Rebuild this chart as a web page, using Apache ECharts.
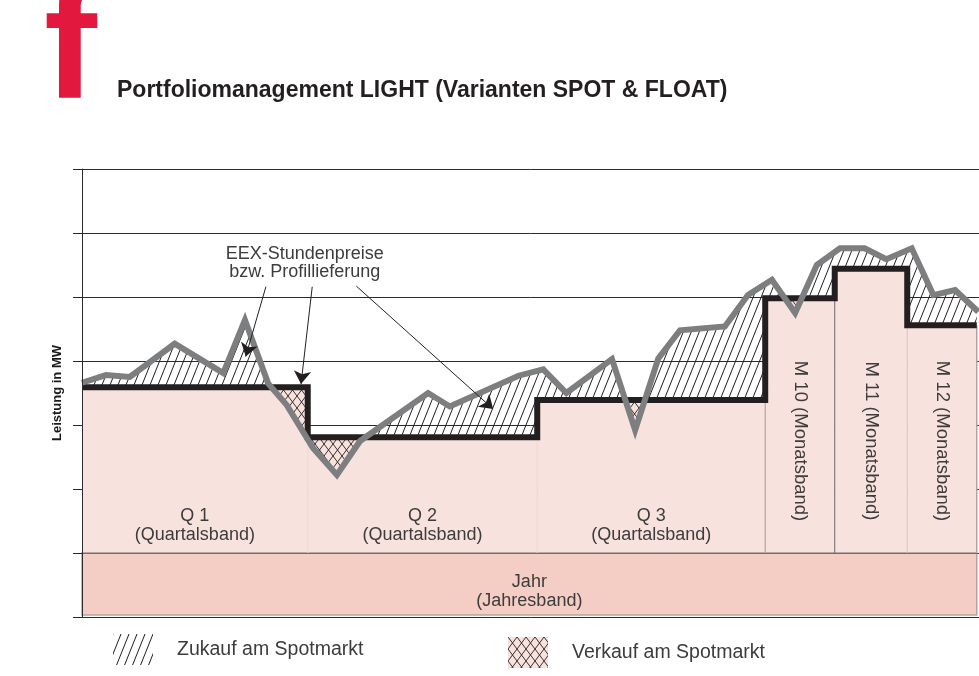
<!DOCTYPE html>
<html>
<head>
<meta charset="utf-8">
<title>Portfoliomanagement LIGHT</title>
<script src="https://cdn.jsdelivr.net/npm/echarts@6/dist/echarts.min.js"></script>
<style>
    html, body { margin: 0; padding: 0; background: #fff; }
    #chart { width: 979px; height: 676px; }
</style>
</head>
<body>
<div id="chart"></div>
<script>
// Bänder (x in Monaten, y = Leistung in MW)
const bandEdges = [0, 3.02, 6.09, 9.14, 10.07, 11.04, 11.97];
const bandLevels = [3.59, 2.81, 3.39, 4.98, 5.44, 4.56];
const bandNames = ['Q 1', 'Q 2', 'Q 3', 'M 10', 'M 11', 'M 12'];
const bandKinds = ['(Quartalsband)', '(Quartalsband)', '(Quartalsband)', '(Monatsband)', '(Monatsband)', '(Monatsband)'];
const yearLevel = 1;
const yearName = 'Jahr';
const yearKind = '(Jahresband)';

// EEX-Stundenpreise bzw. Profillieferung
const spotX = [0, 0.32, 0.64, 1.24, 1.89, 2.18, 2.49, 2.74, 3.09, 3.41, 3.72, 4.63, 4.92, 5.84, 6.17, 6.48,
    7.09, 7.40, 7.71, 8.00, 8.60, 8.91, 9.23, 9.54, 9.83, 10.14, 10.47, 10.76, 11.10, 11.39, 11.68, 11.99];
const spotY = [3.66, 3.78, 3.75, 4.27, 3.81, 4.64, 3.65, 3.31, 2.64, 2.22, 2.75, 3.50, 3.29, 3.77, 3.87, 3.50,
    4.03, 2.92, 4.04, 4.48, 4.54, 5.03, 5.27, 4.75, 5.50, 5.76, 5.76, 5.59, 5.76, 5.03, 5.11, 4.77];

const noteText = 'EEX-Stundenpreise\nbzw. Profillieferung';
const noteAt = [2.98, 5.53];
const arrowFrom = [[2.46, 5.16], [3.08, 5.16], [3.67, 5.17]];
const arrowTo = [[2.19, 4.07], [2.93, 3.64], [5.50, 3.25]];

const legendNames = ['Zukauf am Spotmarkt', 'Verkauf am Spotmarkt'];
const yMax = 7;

const FONT = '"Liberation Sans", Arial, sans-serif';
const INK = '#231f20';
const TEXT = '#3c3c3c';
const PINK = '#f8e2dd';
const PINK_DARK = '#f4cdc4';
const SEP_COLORS = [null, '#f2d6d0', '#f2d6d0', '#a59a97', '#6f6767', '#d6c4c0'];

function makePattern(w, h, bg, draw) {
    const c = document.createElement('canvas');
    c.width = w;
    c.height = h;
    const ctx = c.getContext('2d');
    if (bg) {
        ctx.fillStyle = bg;
        ctx.fillRect(0, 0, w, h);
    }
    ctx.strokeStyle = INK;
    ctx.lineWidth = 1;
    draw(ctx, w, h);
    return { image: c, repeat: 'repeat' };
}

const hatchFill = makePattern(8, 20, null, (ctx, w, h) => {
    for (let k = -1; k <= 1; k++) {
        ctx.beginPath(); ctx.moveTo(k * w, h); ctx.lineTo(k * w + w, 0); ctx.stroke();
    }
});
const crossFill = makePattern(9, 12, PINK, (ctx, w, h) => {
    ctx.lineWidth = 0.9;
    for (let k = -1; k <= 1; k++) {
        ctx.beginPath(); ctx.moveTo(k * w, h); ctx.lineTo(k * w + w, 0); ctx.stroke();
        ctx.beginPath(); ctx.moveTo(k * w, 0); ctx.lineTo(k * w + w, h); ctx.stroke();
    }
});

// Flächen zwischen Spotkurve und Bandstufe
function spotAt(x) {
    for (let i = 0; i < spotX.length - 1; i++) {
        if (x <= spotX[i + 1]) {
            const t = (x - spotX[i]) / (spotX[i + 1] - spotX[i]);
            return spotY[i] + t * (spotY[i + 1] - spotY[i]);
        }
    }
    return spotY[spotY.length - 1];
}

const hatchPolys = [];
const crossPolys = [];
for (let b = 0; b < bandLevels.length; b++) {
    const a = bandEdges[b], e = bandEdges[b + 1], L = bandLevels[b];
    const xs = [a].concat(spotX.filter(x => x > a && x < e), [e]);
    const pts = [];
    xs.forEach((x, i) => {
        const y = spotAt(x);
        if (i > 0) {
            const p = pts[pts.length - 1];
            if ((p[1] - L) * (y - L) < 0) {
                const t = (L - p[1]) / (y - p[1]);
                pts.push([p[0] + t * (x - p[0]), L]);
            }
        }
        pts.push([x, y]);
    });
    const runs = [];
    let cur = null;
    for (let i = 1; i < pts.length; i++) {
        const up = (pts[i - 1][1] + pts[i][1]) / 2 >= L;
        if (!cur || cur.up !== up) {
            cur = { up: up, pts: [pts[i - 1]] };
            runs.push(cur);
        }
        cur.pts.push(pts[i]);
    }
    runs.forEach(r => {
        const last = r.pts[r.pts.length - 1];
        const poly = r.pts.concat([[last[0], L], [r.pts[0][0], L]]);
        (r.up ? hatchPolys : crossPolys).push(poly);
    });
}

const stepData = [];
bandLevels.forEach((lv, i) => {
    stepData.push([bandEdges[i], lv], [bandEdges[i + 1], lv]);
});

function polySeries(name, polys, fill) {
    return {
        name: name,
        type: 'custom',
        silent: true,
        itemStyle: { color: fill },
        data: polys.map(p => p[0]),
        renderItem: function (params, api) {
            const pts = polys[params.dataIndex].map(p => api.coord(p));
            return { type: 'polygon', shape: { points: pts }, style: { fill: fill } };
        }
    };
}

const chart = echarts.init(document.getElementById('chart'));
chart.setOption({
    animation: false,
    backgroundColor: '#fff',
    title: {
        text: 'Portfoliomanagement LIGHT (Varianten SPOT & FLOAT)',
        left: 117,
        top: 79,
        padding: 0,
        textStyle: { fontSize: 23, fontWeight: 'bold', color: INK, fontFamily: FONT }
    },
    graphic: [{
        type: 'text',
        x: 44,
        y: 54.5,
        style: { text: 'f', fill: '#e2183f', font: 'bold 159px ' + FONT, verticalAlign: 'middle' }
    }],
    legend: [{
        data: [{ name: legendNames[0], itemStyle: { color: hatchFill } }],
        left: 113, top: 634, padding: 0, icon: 'rect', itemWidth: 40, itemHeight: 31, selectedMode: false,
        textStyle: { fontSize: 19.5, color: TEXT, fontFamily: FONT, padding: [0, 0, 0, 19] }
    }, {
        data: [{ name: legendNames[1], itemStyle: { color: crossFill } }],
        left: 508, top: 637, padding: 0, icon: 'rect', itemWidth: 40, itemHeight: 31, selectedMode: false,
        textStyle: { fontSize: 19.5, color: TEXT, fontFamily: FONT, padding: [0, 0, 0, 19] }
    }],
    grid: { left: 82, right: 0, top: 169, bottom: 59, containLabel: false, outerBoundsMode: 'none' },
    xAxis: { type: 'value', min: 0, max: 12, show: false },
    yAxis: [{
        type: 'value', min: 0, max: yMax, interval: 1,
        axisLine: { show: false }, axisTick: { show: false }, axisLabel: { show: false },
        splitLine: { show: true, lineStyle: { color: '#2b2b2b', width: 1 } }
    }, {
        type: 'value', min: 0, max: yMax, interval: 1, position: 'left', z: 10,
        axisLine: { show: true, lineStyle: { color: '#2b2b2b', width: 1 } },
        axisTick: { show: true, length: 9, lineStyle: { color: '#2b2b2b' } },
        axisLabel: { show: false },
        splitLine: { show: false },
        name: 'Leistung in MW', nameLocation: 'middle', nameGap: 18,
        nameTextStyle: { fontSize: 13, fontWeight: 'bold', color: '#1a1a1a', fontFamily: FONT }
    }],
    series: [{
        name: yearName,
        type: 'custom',
        silent: true,
        data: [[0, yearLevel]],
        renderItem: function (params, api) {
            const tl = api.coord([0, yearLevel]);
            const br = api.coord([bandEdges[bandEdges.length - 1], 0]);
            const mid = api.coord([0, 0.4]);
            return {
                type: 'group',
                children: [{
                    type: 'rect',
                    shape: { x: tl[0], y: tl[1], width: br[0] - tl[0], height: br[1] - tl[1] - 2 },
                    style: { fill: PINK_DARK, stroke: '#b8a19c', lineWidth: 1.5 }
                }, {
                    type: 'line',
                    shape: { x1: tl[0], y1: tl[1], x2: br[0], y2: tl[1] },
                    style: { stroke: '#2b2b2b', lineWidth: 1 }
                }, {
                    type: 'text',
                    style: {
                        text: yearName + '\n' + yearKind, x: (tl[0] + br[0]) / 2, y: mid[1],
                        align: 'center', verticalAlign: 'middle', fontSize: 18, lineHeight: 19,
                        fontFamily: FONT, fill: TEXT
                    }
                }]
            };
        }
    }, {
        name: 'Bänder',
        type: 'custom',
        silent: true,
        data: bandLevels.map((lv, i) => [bandEdges[i], lv]),
        renderItem: function (params, api) {
            const b = params.dataIndex;
            const x0 = bandEdges[b], x1 = bandEdges[b + 1], lv = bandLevels[b];
            const tl = api.coord([x0, lv]);
            const br = api.coord([x1, yearLevel]);
            const children = [{
                type: 'rect',
                shape: { x: tl[0], y: tl[1], width: br[0] - tl[0], height: br[1] - tl[1] - 0.5 },
                style: { fill: PINK }
            }];
            if (b > 0) {
                const top = api.coord([x0, Math.min(lv, bandLevels[b - 1])]);
                children.push({
                    type: 'line',
                    shape: { x1: tl[0], y1: top[1], x2: tl[0], y2: br[1] },
                    style: { stroke: SEP_COLORS[b], lineWidth: 1 }
                });
            }
            if (b === bandLevels.length - 1) {
                children.push({
                    type: 'line',
                    shape: { x1: br[0], y1: tl[1], x2: br[0], y2: br[1] },
                    style: { stroke: '#b8a19c', lineWidth: 1.5 }
                });
            }
            const cx = (tl[0] + br[0]) / 2;
            if (bandKinds[b] === '(Quartalsband)') {
                const p = api.coord([x0, 1.43]);
                children.push({
                    type: 'text',
                    style: {
                        text: bandNames[b] + '\n' + bandKinds[b], x: cx, y: p[1],
                        align: 'center', verticalAlign: 'middle', fontSize: 18, lineHeight: 19,
                        fontFamily: FONT, fill: TEXT
                    }
                });
            } else {
                const p = api.coord([x0, 2.75]);
                children.push({
                    type: 'text',
                    x: cx, y: p[1], rotation: -Math.PI / 2,
                    style: {
                        text: bandNames[b] + ' ' + bandKinds[b], x: 0, y: 0,
                        align: 'center', verticalAlign: 'middle', fontSize: 18.5,
                        fontFamily: FONT, fill: TEXT
                    }
                });
            }
            return { type: 'group', children: children };
        }
    },
    polySeries(legendNames[0], hatchPolys, hatchFill),
    polySeries(legendNames[1], crossPolys, crossFill),
    {
        name: 'Bandlieferung',
        type: 'line',
        silent: true,
        symbol: 'none',
        data: stepData,
        lineStyle: { color: INK, width: 6, join: 'miter' }
    }, {
        name: 'EEX-Stundenpreise',
        type: 'line',
        silent: true,
        symbol: 'none',
        data: spotX.map((x, i) => [x, spotY[i]]),
        lineStyle: { color: '#7d7e80', width: 6, join: 'miter' },
        markLine: {
            silent: true,
            symbol: ['none', 'arrow'],
            symbolSize: 13,
            label: { show: false },
            lineStyle: { color: INK, width: 1, type: 'solid' },
            data: arrowFrom.map((p, i) => [{ coord: p }, { coord: arrowTo[i] }])
        }
    }, {
        name: 'Hinweis',
        type: 'custom',
        silent: true,
        data: [noteAt],
        renderItem: function (params, api) {
            const p = api.coord(noteAt);
            return {
                type: 'text',
                style: {
                    text: noteText, x: p[0], y: p[1], align: 'center', verticalAlign: 'middle',
                    fontSize: 18, lineHeight: 18, fontFamily: FONT, fill: TEXT
                }
            };
        }
    }]
});
</script>
</body>
</html>
